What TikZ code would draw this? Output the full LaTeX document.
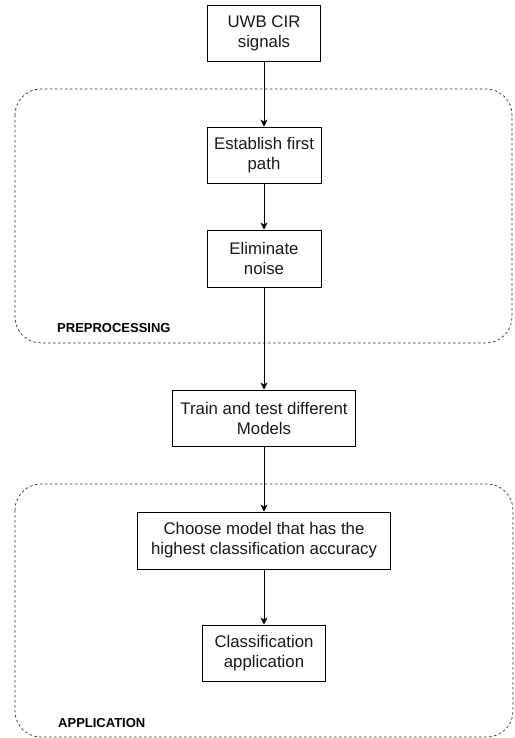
\documentclass[tikz,border=0pt]{standalone}
\usepackage{fontspec}
\setmainfont{Liberation Sans}
\usetikzlibrary{arrows.meta}
\begin{document}
\begin{tikzpicture}[x=1pt,y=-1pt,
  stepbox/.style={draw=black,line width=0.9pt,align=center,inner sep=0pt,
    font=\fontsize{16.8}{20}\selectfont,text=black!90},
  groupbox/.style={draw=black!80,line width=0.7pt,dash pattern=on 2.5pt off 2.5pt,rounded corners=26pt},
  grouplabel/.style={anchor=base west,inner sep=0pt,font=\fontsize{13}{15}\selectfont\bfseries},
  flow/.style={line width=0.9pt,-{Stealth[length=7pt,width=7pt,inset=2pt]}}]
\useasboundingbox (0,0) rectangle (514,738);

% stage groups
\draw[groupbox] (15,89) rectangle (512,343);
\draw[groupbox] (15,484) rectangle (513,737);
\node[grouplabel] (lpre) at (57,332) {PREPROCESSING};
\node[grouplabel] (lapp) at (58,727) {APPLICATION};

% processing steps
\node[stepbox,minimum width=113pt,minimum height=56pt] (uwb) at (264,33) {UWB CIR\\signals};
\node[stepbox,minimum width=114pt,minimum height=56pt] (first) at (264,155) {Establish first\\path};
\node[stepbox,minimum width=114pt,minimum height=57pt] (noise) at (264,258.5) {Eliminate\\noise};
\node[stepbox,minimum width=183pt,minimum height=56pt] (train) at (264,418) {Train and test different\\Models};
\node[stepbox,minimum width=253pt,minimum height=57pt] (choose) at (264,540.5) {Choose model that has the\\highest classification accuracy};
\node[stepbox,minimum width=123pt,minimum height=56pt] (apply) at (264,653) {Classification\\application};

% flow
\draw[flow] (uwb) -- (first);
\draw[flow] (first) -- (noise);
\draw[flow] (noise) -- (train);
\draw[flow] (train) -- (choose);
\draw[flow] (choose) -- (apply);
\end{tikzpicture}
\end{document}
